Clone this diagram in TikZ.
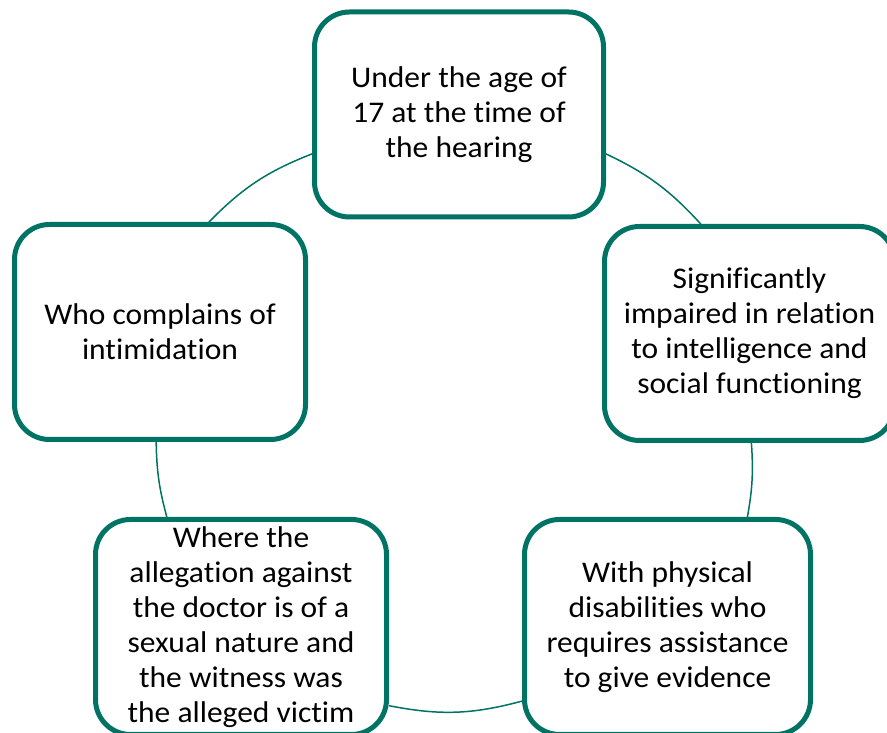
\documentclass[tikz,border=0pt]{standalone}
\usepackage{fontspec}
\setmainfont[Ligatures=NoCommon,FakeStretch=1.05]{Carlito}
\usetikzlibrary{backgrounds}
\definecolor{tealline}{RGB}{0,115,100}
\begin{document}
\begin{tikzpicture}[x=1pt,y=1pt,
  box/.style={draw=tealline, line width=5pt, rounded corners=35pt, fill=white,
    align=center, font=\fontsize{30}{35}\selectfont, inner sep=0pt,
    minimum width=290pt, minimum height=214pt},
  arcline/.style={draw=tealline, line width=1.5pt}]
\useasboundingbox (0,0) rectangle (887,733);
\clip (0,0) rectangle (887,733);
\node[box, minimum width=289pt, minimum height=205pt] (top) at (459,618.5)
  {Under the age of\\17 at the time of\\the hearing};
\node[box] (right) at (749.5,399.5)
  {Significantly\\impaired in relation\\to intelligence and\\social functioning};
\node[box, minimum width=286pt, minimum height=215pt] (br) at (667.5,106)
  {With physical\\disabilities who\\requires assistance\\to give evidence};
\node[box, minimum width=291pt, minimum height=215pt] (bl) at (241,106)
  {Where the\\allegation against\\the doctor is of a\\sexual nature and\\the witness was\\the alleged victim};
\node[box, minimum width=291pt, minimum height=215pt] (left) at (160,401)
  {Who complains of\\intimidation};
\begin{scope}[on background layer]
\fill[white] (0,0) rectangle (887,733);
\draw[arcline] (left.66) to[bend left=12] (top.195);
\draw[arcline] (top.345) to[bend left=11] (right.114.5);
\draw[arcline] (right.271.5) to[bend left=7] (br.54.6);
\draw[arcline] (br.207) to[bend left=13] (bl.332);
\draw[arcline] (bl.124) to[bend left=7] (left.268);
\end{scope}
\end{tikzpicture}
\end{document}
